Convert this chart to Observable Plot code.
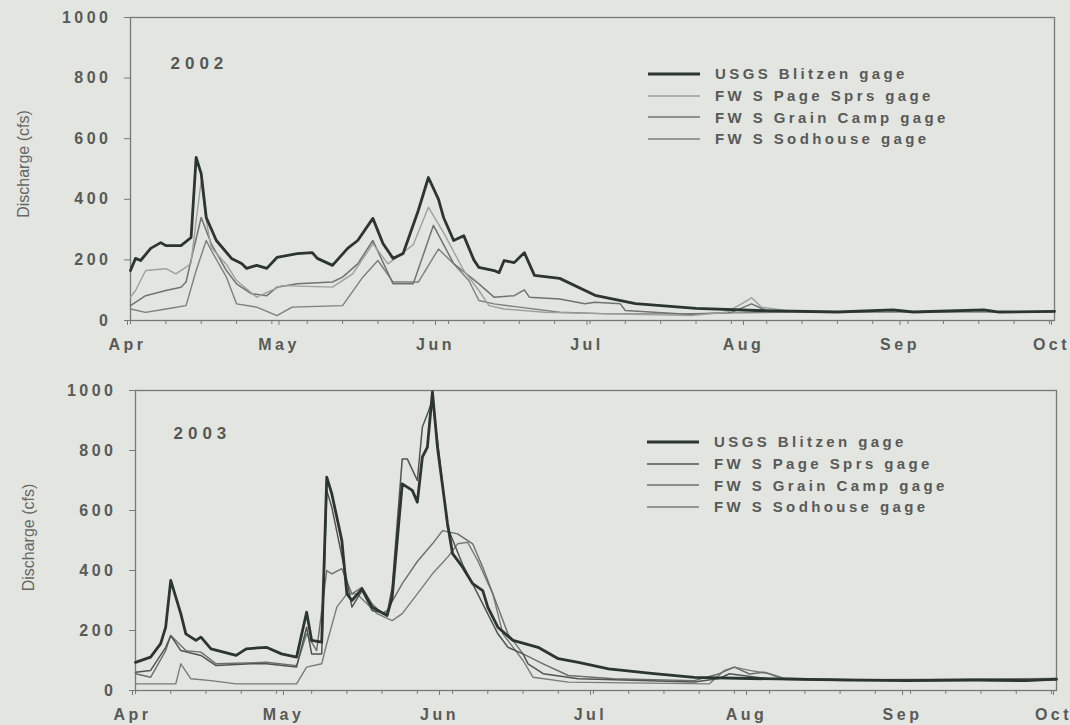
<!DOCTYPE html>
<html><head><meta charset="utf-8">
<script src="https://cdn.jsdelivr.net/npm/d3@7"></script>
<script src="https://cdn.jsdelivr.net/npm/@observablehq/plot@0.6"></script>
<style>
html,body{margin:0;padding:0;background:#e3e5e0;}
body{width:1070px;height:725px;overflow:hidden;font-family:"Liberation Sans",Arial,sans-serif;}
.panel{position:relative;width:1070px;}
.panel svg{display:block;}
.panel g[aria-label="y-axis tick label"] text{font-weight:bold;letter-spacing:3.5px;}
.panel g[aria-label="x-axis tick label"] text{font-weight:bold;letter-spacing:3.5px;}
.panel text[aria-label="year"]{letter-spacing:5px;}
.legend{position:absolute;color:#585a58;font-weight:bold;font-size:15px;letter-spacing:3.4px;}
.legend .row{height:21.7px;display:flex;align-items:center;white-space:nowrap;}
.legend svg{margin-right:15px;display:block;}
</style></head><body>
<div id="p1" class="panel"></div>
<div id="p2" class="panel"></div>
<script>
const seriesNames = ["USGS Blitzen gage","FW S Page Sprs gage","FW S Grain Camp gage","FW S Sodhouse gage"];
const monthLabels = ["Apr","May","Jun","Jul","Aug","Sep","Oct"];
const yTicks = [0,200,400,600,800,1000];
const yLabel = "Discharge (cfs)";
const years = [2002, 2003];

// 2002 daily discharge: [month-day, cfs]
const blitzen2002 = [["04-01",165],["04-02",205],["04-03",198],["04-05",238],["04-07",257],["04-08",247],["04-11",247],["04-13",274],["04-14",538],["04-15",485],["04-16",340],["04-18",264],["04-21",205],["04-23",188],["04-24",172],["04-26",182],["04-28",172],["04-30",208],["05-04",221],["05-07",224],["05-08",205],["05-11",182],["05-14",238],["05-16",264],["05-19",337],["05-21",254],["05-23",205],["05-25",221],["05-28",363],["05-30",472],["06-01",400],["06-02",340],["06-04",264],["06-06",280],["06-08",200],["06-09",175],["06-12",165],["06-13",158],["06-14",198],["06-16",191],["06-18",224],["06-20",149],["06-25",139],["07-02",83],["07-10",56],["07-22",40],["08-03",33],["08-19",28],["08-30",35],["09-03",28],["09-17",35],["09-20",28],["10-01",30]];
const page2002 = [["04-01",77],["04-02",99],["04-04",165],["04-08",171],["04-10",154],["04-12",176],["04-13",190],["04-14",330],["04-15",460],["04-16",330],["04-17",240],["04-20",185],["04-22",132],["04-26",77],["05-01",115],["05-11",110],["05-15",154],["05-19",253],["05-22",187],["05-27",250],["05-30",374],["06-02",290],["06-06",165],["06-09",99],["06-11",49],["06-14",38],["06-22",27],["07-05",22],["07-21",16],["07-28",27],["07-31",55],["08-02",75],["08-04",44],["08-10",30],["09-01",28],["10-01",28]];
const grain2002 = [["04-01",49],["04-04",82],["04-08",99],["04-11",110],["04-12",127],["04-13",200],["04-15",340],["04-17",253],["04-20",165],["04-22",121],["04-25",88],["04-28",82],["04-30",110],["05-04",121],["05-11",127],["05-13",143],["05-16",187],["05-19",264],["05-23",121],["05-27",121],["05-31",314],["06-04",188],["06-09",121],["06-12",77],["06-16",82],["06-18",101],["06-19",77],["06-25",71],["06-30",55],["07-02",60],["07-07",55],["07-08",33],["07-21",20],["07-29",27],["08-02",55],["08-05",32],["08-20",28],["10-01",28]];
const sod2002 = [["04-01",38],["04-04",27],["04-08",38],["04-12",49],["04-14",165],["04-16",264],["04-17",231],["04-20",143],["04-22",55],["04-26",44],["04-30",16],["05-03",44],["05-13",49],["05-17",143],["05-20",198],["05-23",127],["05-28",127],["06-01",236],["06-04",187],["06-07",132],["06-09",66],["06-12",55],["06-17",44],["06-25",27],["07-05",22],["07-18",22],["07-30",25],["08-10",28],["10-01",28]];

// 2003
const blitzen2003 = [["04-01",94],["04-04",111],["04-06",156],["04-07",211],["04-08",367],["04-10",256],["04-11",189],["04-13",167],["04-14",178],["04-16",139],["04-21",117],["04-23",139],["04-27",144],["04-30",122],["05-03",111],["05-05",261],["05-06",167],["05-08",161],["05-09",711],["05-10",656],["05-12",500],["05-13",322],["05-14",300],["05-16",339],["05-18",278],["05-21",250],["05-22",311],["05-24",689],["05-26",667],["05-27",628],["05-28",778],["05-29",811],["05-30",995],["05-31",811],["06-02",556],["06-03",456],["06-05",411],["06-07",356],["06-09",333],["06-10",278],["06-12",211],["06-15",167],["06-20",144],["06-24",106],["06-28",94],["07-04",72],["07-13",56],["07-21",44],["08-01",40],["08-15",36],["09-01",33],["09-15",35],["09-25",33],["10-01",38]];
const page2003 = [["04-01",61],["04-04",67],["04-07",144],["04-08",183],["04-10",133],["04-14",117],["04-17",83],["04-24",89],["04-27",89],["05-03",78],["05-05",211],["05-06",122],["05-08",122],["05-09",667],["05-10",611],["05-13",367],["05-14",278],["05-16",333],["05-18",267],["05-21",256],["05-22",344],["05-24",772],["05-25",772],["05-27",700],["05-28",878],["05-29",922],["05-30",967],["05-31",833],["06-02",544],["06-05",420],["06-08",322],["06-12",189],["06-14",144],["06-17",122],["06-18",89],["06-21",56],["06-28",39],["07-21",28],["07-26",40],["07-28",56],["08-05",38],["08-20",33],["09-10",35],["10-01",36]];
const grain2003 = [["04-01",56],["04-04",44],["04-07",133],["04-08",183],["04-11",133],["04-14",128],["04-17",89],["04-27",94],["05-03",83],["05-05",189],["05-07",133],["05-09",400],["05-10",389],["05-12",406],["05-14",322],["05-16",344],["05-18",289],["05-20",256],["05-21",267],["05-24",356],["05-27",430],["05-30",489],["06-01",533],["06-04",522],["06-07",489],["06-09",411],["06-12",278],["06-14",189],["06-17",122],["06-21",89],["06-26",50],["07-05",39],["07-21",33],["07-26",56],["07-29",78],["08-01",55],["08-04",61],["08-07",42],["08-20",36],["09-15",38],["10-01",40]];
const sod2003 = [["04-01",22],["04-09",22],["04-10",89],["04-12",39],["04-16",33],["04-21",22],["05-03",22],["05-05",78],["05-08",89],["05-09",156],["05-11",278],["05-13",322],["05-15",322],["05-17",289],["05-19",256],["05-22",233],["05-24",256],["05-27",322],["05-30",389],["06-02",444],["06-04",489],["06-06",494],["06-08",433],["06-11",322],["06-13",189],["06-17",100],["06-19",44],["06-26",28],["07-24",22],["07-27",67],["07-29",78],["08-01",67],["08-05",56],["08-08",40],["08-25",35],["10-01",35]];

const styles2002 = [{color:"#2b3532",width:2.8},{color:"#9da19e",width:1.4},{color:"#6f7471",width:1.5},{color:"#7b807c",width:1.4}];
const styles2003 = [{color:"#2b3532",width:2.8},{color:"#4e5552",width:1.5},{color:"#6a6f6c",width:1.4},{color:"#777c78",width:1.4}];

function drawPanel(el, year, seriesData, styles, o) {
  const start = new Date(Date.UTC(year,3,1)), end = new Date(Date.UTC(year,9,1));
  const toRows = arr => arr.map(([md, v]) => ({date: new Date(`${year}-${md}T00:00:00Z`), value: v}));
  const weeks = d3.utcDay.range(start, new Date(+end + 1), 7);
  const months = d3.utcMonth.range(start, new Date(+end + 1));
  const chart = Plot.plot({
    width: 1070, height: o.height,
    marginLeft: o.ml, marginRight: o.mr, marginTop: o.mt, marginBottom: o.mb,
    style: {background: "transparent", fontFamily: "'Liberation Sans', Arial, sans-serif", fontSize: "15px", color: "#585a58", overflow: "visible"},
    x: {type: "utc", domain: [start, end], axis: null},
    y: {domain: [0, 1000], axis: null},
    marks: [
      Plot.frame({stroke: "#767976", strokeWidth: 1.3}),
      Plot.axisX({ticks: weeks, tickSize: 4, tickFormat: () => "", label: null, stroke: "#767976"}),
      Plot.axisX({ticks: months, tickSize: 5, tickPadding: 13, label: null, stroke: "#767976",
        tickFormat: d => monthLabels[d.getUTCMonth() - 3], fontSize: 16, dx: -3}),
      Plot.axisY({ticks: yTicks, tickSize: 6, tickPadding: 13, label: null, stroke: "#767976", fontSize: 16,
        tickFormat: d => String(d)}),
      Plot.text([yLabel], {frameAnchor: "left", textAnchor: "middle", rotate: -90, dx: o.ylx, dy: o.yly, fontSize: 16, fill: "#666866"}),
      Plot.text([String(year)], {frameAnchor: "top-left", textAnchor: "start", lineAnchor: "top", dx: o.yrx, dy: o.yry,
        fontSize: 17, fontWeight: "bold", fill: "#555755", ariaLabel: () => "year"}),
      ...seriesData.slice().reverse().map((s, i) => {
        const st = styles[seriesData.length - 1 - i];
        return Plot.line(toRows(s), {x: "date", y: "value", stroke: st.color, strokeWidth: st.width, strokeLinejoin: "round"});
      })
    ]
  });
  el.appendChild(chart);
  const lg = document.createElement("div");
  lg.className = "legend";
  lg.style.left = o.lgx + "px";
  lg.style.top = o.lgy + "px";
  seriesNames.forEach((name, i) => {
    const row = document.createElement("div");
    row.className = "row";
    row.innerHTML = `<svg width="52" height="6"><line x1="0" x2="52" y1="3" y2="3" stroke="${styles[i].color}" stroke-width="${i === 0 ? 3.2 : 1.6}"/></svg><span>${name}</span>`;
    lg.appendChild(row);
  });
  el.appendChild(lg);
}

drawPanel(document.getElementById("p1"), years[0], [blitzen2002, page2002, grain2002, sod2002], styles2002,
  {height: 362, ml: 130, mr: 16, mt: 17, mb: 42, ylx: -107, yly: -5, yrx: 40, yry: 39, lgx: 648, lgy: 63});
drawPanel(document.getElementById("p2"), years[1], [blitzen2003, page2003, grain2003, sod2003], styles2003,
  {height: 363, ml: 135, mr: 14, mt: 28, mb: 35, ylx: -107, yly: -3, yrx: 38, yry: 36, lgx: 647, lgy: 69});
</script>
</body></html>
